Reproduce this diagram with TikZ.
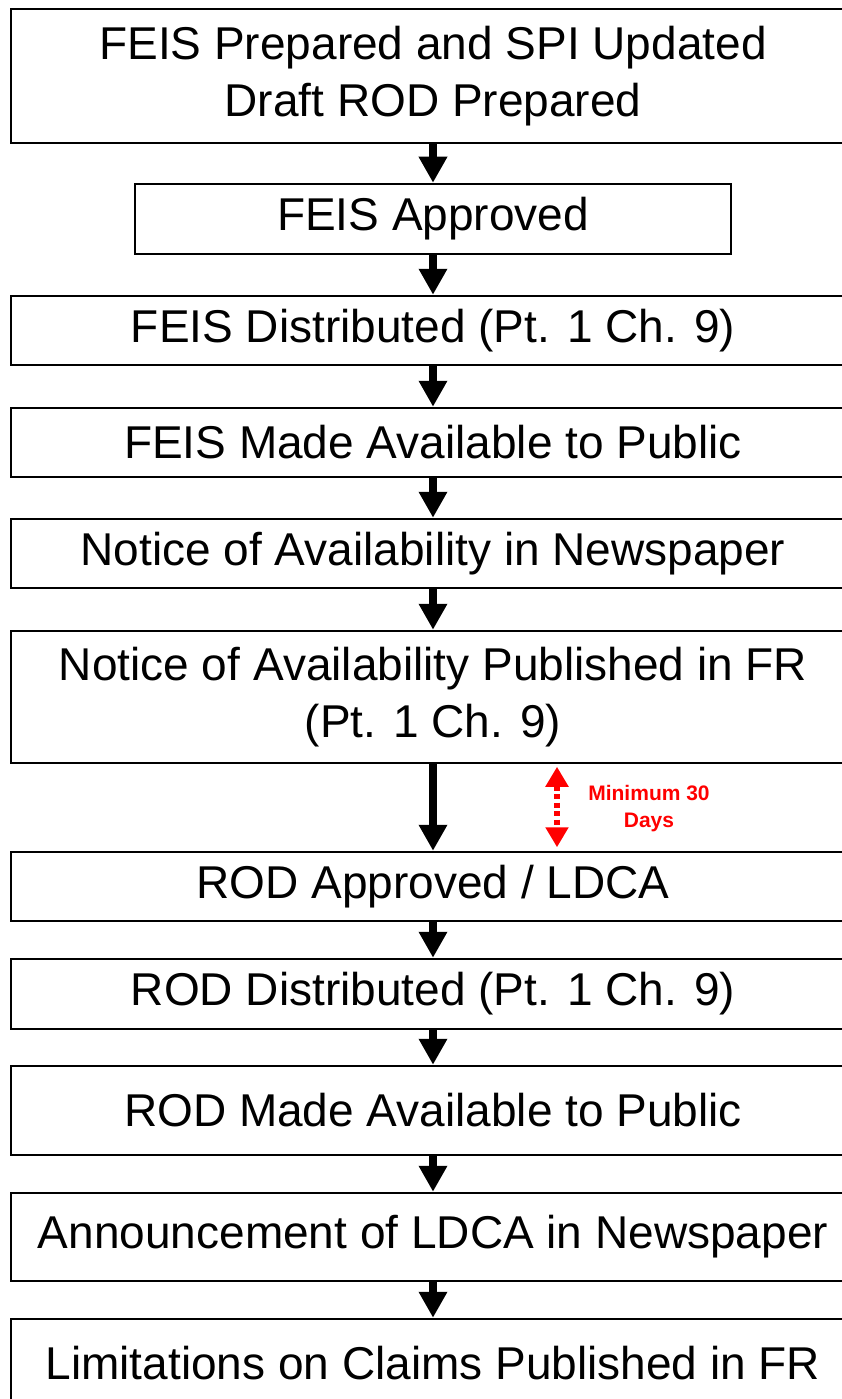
\documentclass[tikz,border=0pt]{standalone}
\usepackage{fontspec}
\setmainfont{Liberation Sans}
\usepackage{xcolor}
\definecolor{gapRed}{HTML}{FF0000}
\usepackage{tikz}
\usetikzlibrary{arrows.meta,positioning}

\begin{document}
\begin{tikzpicture}[
  font=\fontsize{46}{57}\selectfont,
  stepbox/.style={draw,line width=2.5pt,align=center,inner sep=0pt,
                  minimum width=844pt,minimum height=69pt},
  flow/.style={-{Triangle[length=26pt,width=27pt]},line width=8pt},
  span/.style={{Triangle[length=20pt,width=22pt]}-{Triangle[length=20pt,width=22pt]},
               line width=6pt,gapRed,dash pattern=on 5pt off 3.5pt,
               shorten <=2.5pt,shorten >=3.5pt},
  spanlbl/.style={text=gapRed,align=center,font=\fontsize{21}{27}\selectfont\bfseries}
]
\useasboundingbox (0,0) rectangle (842pt,-1399pt);

\node[stepbox, minimum height=134pt] (prep) at (433pt,-76pt)
  {FEIS Prepared and SPI Updated\\ Draft ROD Prepared};
\node[stepbox, minimum width=596pt, minimum height=70pt, below=38.5pt of prep] (appr)
  {FEIS Approved};
\node[stepbox, below=39.5pt of appr] (dist) {FEIS Distributed (Pt. 1 Ch. 9)};
\node[stepbox, below=40.5pt of dist] (avail) {FEIS Made Available to Public};
\node[stepbox, below=39.5pt of avail] (news) {Notice of Availability in Newspaper};
\node[stepbox, minimum height=132pt, below=40.5pt of news] (fr)
  {Notice of Availability Published in FR\\ (Pt. 1 Ch. 9)};
\node[stepbox, below=86.5pt of fr] (rod) {ROD Approved / LDCA};
\node[stepbox, minimum height=70pt, below=35.5pt of rod] (roddist) {ROD Distributed (Pt. 1 Ch. 9)};
\node[stepbox, minimum height=89pt, below=34.5pt of roddist] (rodavail) {ROD Made Available to Public};
\node[stepbox, minimum height=88pt, below=35.5pt of rodavail] (ldca) {Announcement of LDCA in Newspaper};
\node[stepbox, minimum height=88pt, below=35.5pt of ldca] (claims) {Limitations on Claims Published in FR};

\draw[flow] (prep) -- (appr);
\draw[flow] (appr) -- (dist);
\draw[flow] (dist) -- (avail);
\draw[flow] (avail) -- (news);
\draw[flow] (news) -- (fr);
\draw[flow] (fr) -- (rod);
\draw[flow] (rod) -- (roddist);
\draw[flow] (roddist) -- (rodavail);
\draw[flow] (rodavail) -- (ldca);
\draw[flow] (ldca) -- (claims);

\draw[span] ([xshift=124pt]fr.south) -- ([xshift=124pt]rod.north);
\node[spanlbl] (days) at ([xshift=216pt,yshift=-44pt]fr.south) {Minimum 30\\ Days};
\end{tikzpicture}
\end{document}
